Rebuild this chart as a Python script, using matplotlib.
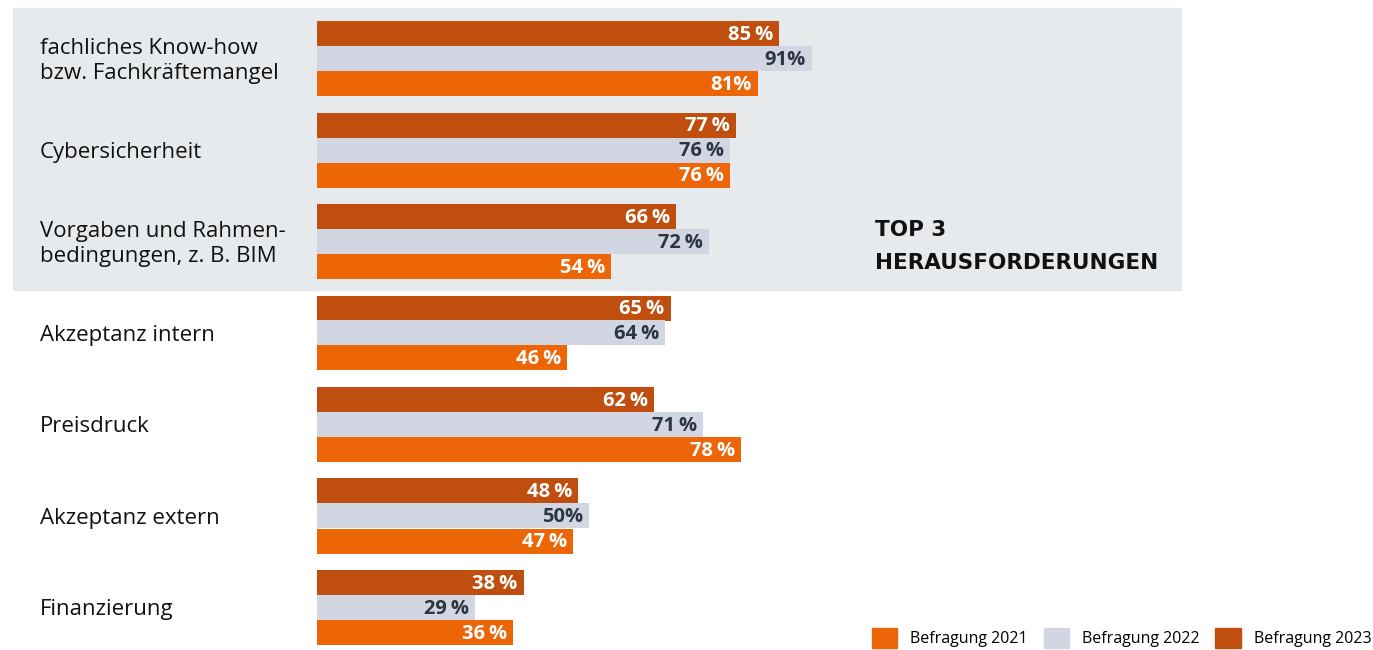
import matplotlib.pyplot as plt
import numpy as np
from matplotlib.patches import Patch, Rectangle

categories = [
    "fachliches Know-how\nbzw. Fachkräftemangel",
    "Cybersicherheit",
    "Vorgaben und Rahmen-\nbedingungen, z. B. BIM",
    "Akzeptanz intern",
    "Preisdruck",
    "Akzeptanz extern",
    "Finanzierung",
]
values_2023 = [85, 77, 66, 65, 62, 48, 38]
values_2022 = [91, 76, 72, 64, 71, 50, 29]
values_2021 = [81, 76, 54, 46, 78, 47, 36]
series_names = ["Befragung 2021", "Befragung 2022", "Befragung 2023"]

c2021 = "#ec6608"
c2022 = "#d2d6e2"
c2023 = "#c04e0e"
bg_grey = "#e7eaed"
dark = "#2c3640"

plt.rcParams["font.family"] = ["Open Sans", "DejaVu Sans"]

fig = plt.figure(figsize=(13.73, 6.5), dpi=100)
W, H = 1373, 650

# grey panel behind the top 3
fig.patches.append(
    Rectangle((13 / W, 1 - 290 / H), (1181 - 13) / W, (290 - 8) / H,
              transform=fig.transFigure, color=bg_grey, zorder=0)
)

ax = fig.add_axes([317 / W, 1 - 645 / H, (861 - 317) / W, (645 - 21) / H])
ax.set_zorder(2)
ax.set_facecolor("none")

pitch = 3.66
tops = np.arange(len(categories)) * pitch
series = [(values_2023, c2023, "white"), (values_2022, c2022, dark), (values_2021, c2021, "white")]
for k, (vals, col, tcol) in enumerate(series):
    y = tops + 0.5 + k
    ax.barh(y, vals, height=1.0, color=col, zorder=2)
    for yy, v in zip(y, vals):
        ax.text(v - 1.1, yy + 0.05, f"{v}\u2009%" if v not in (91, 81, 50) else f"{v}%",
                ha="right", va="center", color=tcol, fontsize=14.5,
                fontweight="bold", zorder=3)

ax.set_xlim(0, 100)
ax.set_ylim(len(categories) * pitch - (pitch - 3), 0)
ax.axis("off")

for i, cat in enumerate(categories):
    yc = tops[i] + 1.5 + 0.1
    ax.text(-277 / 5.44, yc, cat, ha="left", va="center", fontsize=16,
            color="#111111", linespacing=1.22, clip_on=False)

fig.text(875 / W, 1 - 230 / H, "TOP 3", fontsize=15.5, fontweight="bold",
         color="#111111", va="center", ha="left", family="DejaVu Sans")
fig.text(875 / W, 1 - 263 / H, "HERAUSFORDERUNGEN", fontsize=15.5, fontweight="bold",
         color="#111111", va="center", ha="left", family="DejaVu Sans")

handles = [Patch(color=c2021), Patch(color=c2022), Patch(color=c2023)]
fig.legend(handles, series_names, ncol=3, loc="lower right",
           bbox_to_anchor=(1373 / W, 0), frameon=False, fontsize=11.5,
           handlelength=1.6, handleheight=1.6, handletextpad=0.8,
           columnspacing=1.0, borderpad=0.0, borderaxespad=0.1)

fig.savefig("out.png", dpi=100)
